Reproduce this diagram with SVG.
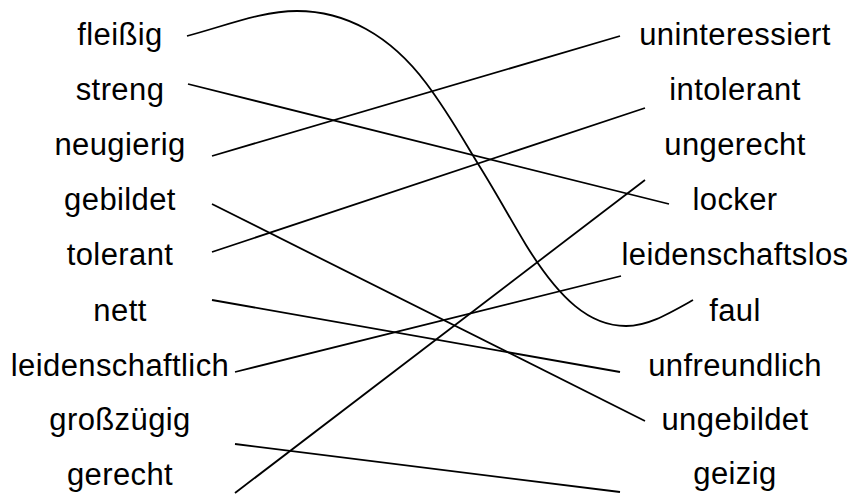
<svg xmlns="http://www.w3.org/2000/svg" width="852" height="495" viewBox="0 0 852 495">
<style>
text{font-family:"Liberation Sans",Arial,sans-serif;font-size:31px;letter-spacing:0.4px;fill:#000;text-anchor:middle}
.c{stroke:#000;stroke-width:1.8;fill:none}
</style>
<rect width="852" height="495" fill="#fff"/>
<g id="left">
<g id="n-fleissig"><text x="120" y="45">fleißig</text></g>
<g id="n-streng"><text x="120" y="100">streng</text></g>
<g id="n-neugierig"><text x="120" y="155">neugierig</text></g>
<g id="n-gebildet"><text x="120" y="210">gebildet</text></g>
<g id="n-tolerant"><text x="120" y="265">tolerant</text></g>
<g id="n-nett"><text x="120" y="321">nett</text></g>
<g id="n-leidenschaftlich"><text x="120" y="376">leidenschaftlich</text></g>
<g id="n-grosszuegig"><text x="120" y="430">großzügig</text></g>
<g id="n-gerecht"><text x="120" y="485">gerecht</text></g>
</g>
<g id="right">
<g id="n-uninteressiert"><text x="735" y="45">uninteressiert</text></g>
<g id="n-intolerant"><text x="735" y="100">intolerant</text></g>
<g id="n-ungerecht"><text x="735" y="155">ungerecht</text></g>
<g id="n-locker"><text x="735" y="210">locker</text></g>
<g id="n-leidenschaftslos"><text x="735" y="265">leidenschaftslos</text></g>
<g id="n-faul"><text x="735" y="321">faul</text></g>
<g id="n-unfreundlich"><text x="735" y="376">unfreundlich</text></g>
<g id="n-ungebildet"><text x="735" y="430">ungebildet</text></g>
<g id="n-geizig"><text x="735" y="484">geizig</text></g>
</g>
<g id="connectors" class="c">
<path d="M187,36 C228,25 262,11 297,11 C345,11 390,35 426,83 C450,115 465,143 480,167 C498,196 512,222 526,245 C560,300 590,326 626,326 C648,326 668,314 693,300"/>
<path d="M188,84 L669,204"/>
<path d="M212,156 L620,36"/>
<path d="M212,204 L645,421"/>
<path d="M212,252 L645,108"/>
<path d="M212,300 L620,372"/>
<path d="M235,372 L621,276"/>
<path d="M235,444 L620,492"/>
<path d="M235,493 L645,180"/>
</g>
</svg>
